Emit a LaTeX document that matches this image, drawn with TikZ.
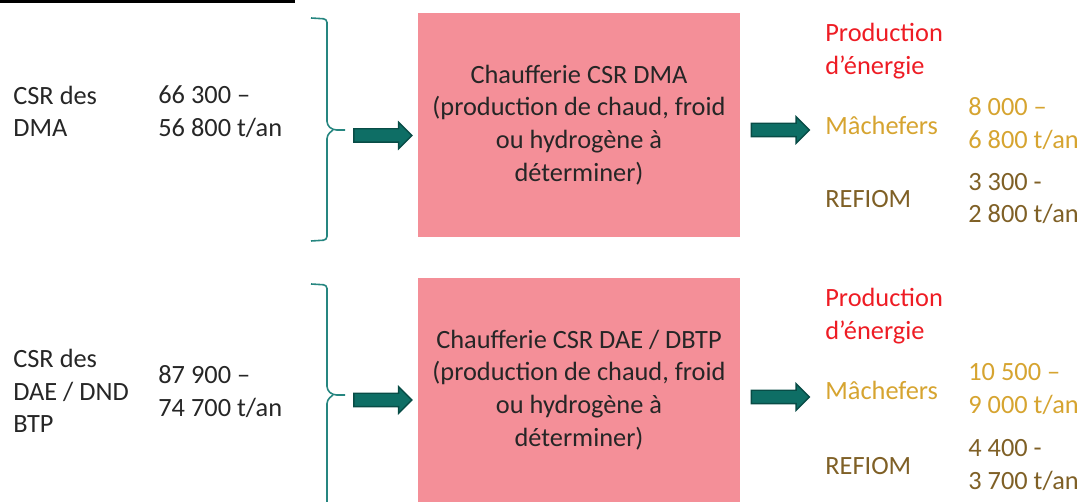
\documentclass[tikz,border=0pt]{standalone}
\usepackage{fontspec}
\setmainfont{Carlito}
\usepackage{xcolor}
\usepackage{tikz}
\usetikzlibrary{shapes.arrows, positioning}
\definecolor{rosecase}{RGB}{244,143,152}
\definecolor{rougeprod}{RGB}{238,28,36}
\definecolor{ormache}{RGB}{214,164,48}
\definecolor{brunrefiom}{RGB}{127,96,38}
\definecolor{sarcelle}{RGB}{14,110,101}
\definecolor{sarcelled}{RGB}{8,76,70}
\definecolor{accolade}{RGB}{38,134,128}
\definecolor{textegris}{RGB}{38,38,38}

\begin{document}
\begin{tikzpicture}[
  x=0.02cm, y=-0.02cm,
  font=\fontsize{15}{18.6}\selectfont,
  txt/.style={anchor=west, align=left, inner sep=0pt, text=textegris},
  chauff/.style={fill=rosecase, minimum width=6.44cm, minimum height=4.48cm, align=center, inner sep=0pt, text=textegris},
  fleche/.style={single arrow, fill=sarcelle, draw=sarcelled, line width=0.8pt, inner xsep=0pt, inner ysep=0.12cm, minimum height=1.16cm, single arrow head extend=0.13cm},
  acc/.style={draw=accolade, line width=0.9pt, rounded corners=2pt}
]
\useasboundingbox (0,0) rectangle (1082,502);
% Trait du titre (coupé)
\fill[black] (0,0) rectangle (295,3.5);
% Ligne 1 : CSR des DMA
\node[txt] (csr1) at (13,111.5) {CSR des\\DMA};
\node[txt] (ton1) at (158,111.5) {66 300 –\\56 800 t/an};
\draw[acc] (311,18) -- (327,19) -- (327,125) -- (333,130) -- (345,130);
\draw[acc] (333,130) -- (327,135) -- (327,240) -- (311,241);
\node[fleche] (fl1) at (379.5,135.5) {};
\node[chauff] (ch1) at (579,125) {Chaufferie CSR DMA\\(production de chaud, froid\\ou hydrogène à\\déterminer)};
\node[fleche] (fl2) at (777,130) {};
\node[txt, text=rougeprod] (prod1) at (825,51) {Production\\d’énergie};
\node[txt, text=ormache] (mach1) at (825,125) {Mâchefers};
\node[txt, text=ormache] (tmach1) at (968,123.5) {8 000 –\\6 800 t/an};
\node[txt, text=brunrefiom] (ref1) at (825,199) {REFIOM};
\node[txt, text=brunrefiom] (tref1) at (968,198.5) {3 300 -\\2 800 t/an};
% Ligne 2 : CSR des DAE / DND BTP
\node[txt] (csr2) at (13,391) {CSR des\\DAE / DND\\BTP};
\node[txt] (ton2) at (158,391.5) {87 900 –\\74 700 t/an};
\draw[acc] (311,284) -- (327,285) -- (327,390) -- (333,395) -- (345,395);
\draw[acc] (333,395) -- (327,400) -- (327,510);
\node[fleche] (fl3) at (379.5,400) {};
\node[chauff] (ch2) at (579,390) {Chaufferie CSR DAE / DBTP\\(production de chaud, froid\\ou hydrogène à\\déterminer)};
\node[fleche] (fl4) at (777,397) {};
\node[txt, text=rougeprod] (prod2) at (825,316) {Production\\d’énergie};
\node[txt, text=ormache] (mach2) at (825,390) {Mâchefers};
\node[txt, text=ormache] (tmach2) at (968,389) {10 500 –\\9 000 t/an};
\node[txt, text=brunrefiom] (ref2) at (825,466) {REFIOM};
\node[txt, text=brunrefiom] (tref2) at (968,465) {4 400 -\\3 700 t/an};
\end{tikzpicture}
\end{document}
